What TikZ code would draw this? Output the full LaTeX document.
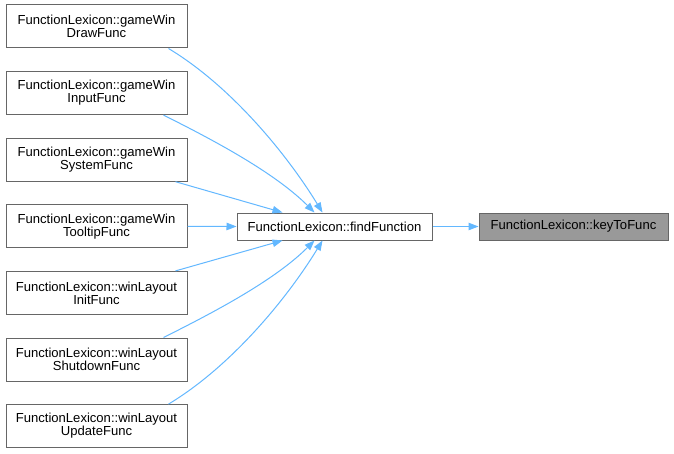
\documentclass[tikz,border=0pt]{standalone}
\usepackage{fontspec}
\setmainfont{Liberation Sans}
\usetikzlibrary{arrows.meta,calc}
\definecolor{edgeblue}{HTML}{63B8FF}
\definecolor{boxborder}{HTML}{666666}
\definecolor{curfill}{HTML}{999999}
\begin{document}
\begin{tikzpicture}[x=0.75pt,y=-0.75pt,
  fn/.style={draw=boxborder,line width=0.75pt,fill=white,inner sep=0pt,align=center,
    font=\fontsize{9.8}{9.75}\selectfont},
  leftbox/.style={fn,minimum width=181*0.75pt,minimum height=43*0.75pt},
  midbox/.style={fn,minimum height=27*0.75pt},
  link/.style={draw=edgeblue,line width=0.75pt,-{Triangle[length=7.5pt,width=5.6pt]}}]
\useasboundingbox[fill=white] (0,0) rectangle (674,453);
\node[leftbox] (b1) at (96.5,26.5) {FunctionLexicon::gameWin\\DrawFunc};
\node[leftbox] (b2) at (96.5,93.1) {FunctionLexicon::gameWin\\InputFunc};
\node[leftbox] (b3) at (96.5,159.7) {FunctionLexicon::gameWin\\SystemFunc};
\node[leftbox] (b4) at (96.5,226.3) {FunctionLexicon::gameWin\\TooltipFunc};
\node[leftbox] (b5) at (96.5,292.9) {FunctionLexicon::winLayout\\InitFunc};
\node[leftbox] (b6) at (96.5,359.5) {FunctionLexicon::winLayout\\ShutdownFunc};
\node[leftbox] (b7) at (96.5,426.1) {FunctionLexicon::winLayout\\UpdateFunc};
\node[midbox,minimum width=195*0.75pt] (find) at (334.5,226.5) {FunctionLexicon::findFunction};
\node[midbox,minimum width=189*0.75pt,fill=curfill] (key) at (573.5,226.5) {FunctionLexicon::keyToFunc};
\draw[link] ($(b1.south east)+(-19,0)$) .. controls +(60,36) and +(-38,-62) .. ($(find.north west)+(86,0)$);
\draw[link] ($(b2.south east)+(-24,0)$) .. controls +(50,25) and +(-40,-40) .. ($(find.north west)+(78,0)$);
\draw[link] ($(b3.south east)+(-12,0)$) -- ($(find.north west)+(46,0)$);
\draw[link] (b4.east) -- (find.west);
\draw[link] ($(b5.north east)+(-12,0)$) -- ($(find.south west)+(46,0)$);
\draw[link] ($(b6.north east)+(-24,0)$) .. controls +(50,-25) and +(-40,40) .. ($(find.south west)+(78,0)$);
\draw[link] ($(b7.north east)+(-19,0)$) .. controls +(60,-36) and +(-38,62) .. ($(find.south west)+(86,0)$);
\draw[link] (find.east) -- (key.west);
\end{tikzpicture}
\end{document}
